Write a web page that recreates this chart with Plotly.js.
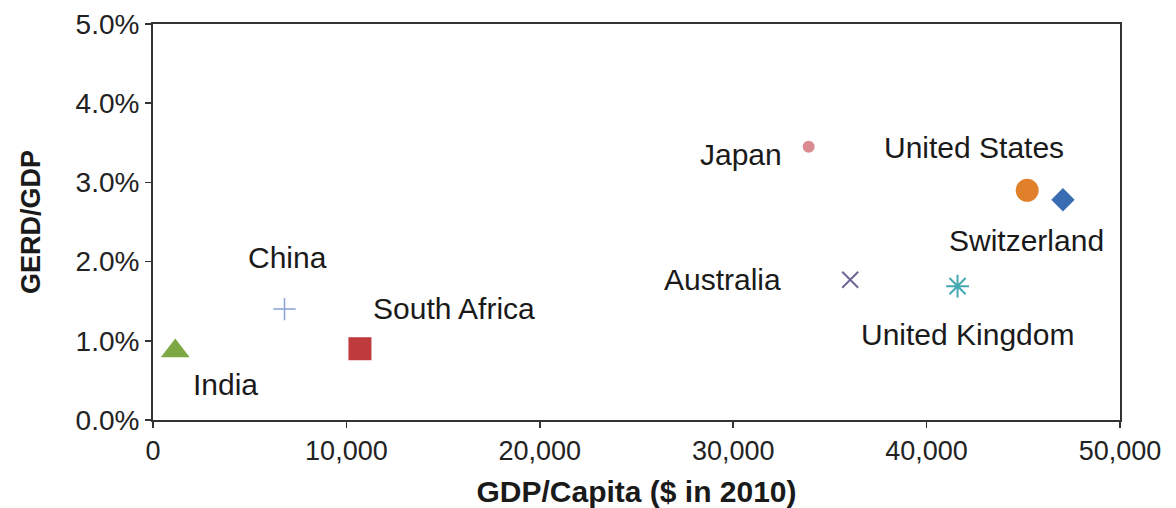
<!DOCTYPE html>
<html>
<head>
<meta charset="utf-8">
<script src="https://cdn.plot.ly/plotly-3.0.1.min.js"></script>
<style>
  html, body { margin: 0; padding: 0; background: #ffffff; }
  #chart { width: 1176px; height: 508px; }
</style>
</head>
<body>
<div id="chart"></div>
<script>
// ---- Data ----
const countries = ["India", "China", "South Africa", "Japan", "United States", "Switzerland", "Australia", "United Kingdom"];
const gdpPerCapita = [1150, 6800, 10700, 33900, 45200, 47050, 36050, 41600];
const gerdPercent = [0.87, 1.40, 0.90, 3.45, 2.90, 2.78, 1.77, 1.69];
const yTickValues = [0, 1, 2, 3, 4, 5];
const yTickLabels = ["0.0%", "1.0%", "2.0%", "3.0%", "4.0%", "5.0%"];
const xTickValues = [0, 10000, 20000, 30000, 40000, 50000];
const xTickLabels = ["0", "10,000", "20,000", "30,000", "40,000", "50,000"];

// ---- Styles (kept apart from data) ----
const markerSymbols = ["triangle-up", "cross-thin-open", "square", "circle", "circle", "diamond", "x-thin-open", "asterisk-open"];
const markerColors = ["#7ea843", "#8aa3d6", "#bf3a3c", "#d98b91", "#e0802b", "#3a6cb3", "#6b6896", "#45a9b3"];
const markerSizes = [25, 16, 23, 12, 23, 18, 16, 19];
const markerLineWidths = [0, 1.5, 0, 0, 0, 0, 2, 2];
// label offsets in pixels from each point (x right, y up)
const labelDx = [50, 3, 94, -68, -53, -36, -128, 10];
const labelDy = [-33, 52, 40, -8, 43, -41, 0, -48];

const FONT = "Liberation Sans, Arial, Helvetica, sans-serif";

const traces = countries.map((name, i) => ({
  type: "scatter",
  mode: "markers",
  name: name,
  x: [gdpPerCapita[i]],
  y: [gerdPercent[i]],
  marker: {
    symbol: markerSymbols[i],
    color: markerColors[i],
    size: markerSizes[i],
    line: { width: markerLineWidths[i], color: markerColors[i] }
  },
  hoverinfo: "x+y+name",
  cliponaxis: false
}));

const annotations = countries.map((name, i) => ({
  x: gdpPerCapita[i],
  y: gerdPercent[i],
  xref: "x",
  yref: "y",
  text: name,
  showarrow: false,
  xanchor: "center",
  yanchor: "middle",
  xshift: labelDx[i],
  yshift: labelDy[i],
  font: { family: FONT, size: 30, color: "#1a1a1a" }
}));

const layout = {
  width: 1176,
  height: 508,
  margin: { l: 153, r: 56, t: 24, b: 88, pad: 0 },
  paper_bgcolor: "#ffffff",
  plot_bgcolor: "#ffffff",
  showlegend: false,
  font: { family: FONT, color: "#222222" },
  xaxis: {
    range: [0, 50000],
    tickmode: "array",
    tickvals: xTickValues,
    ticktext: xTickLabels,
    ticks: "outside",
    ticklen: 6,
    tickwidth: 1.5,
    tickcolor: "#333333",
    showline: true,
    linecolor: "#333333",
    linewidth: 2,
    mirror: true,
    showgrid: false,
    zeroline: false,
    tickfont: { family: FONT, size: 27, color: "#222222" },
    title: { text: "<b>GDP/Capita ($ in 2010)</b>", font: { family: FONT, size: 30, color: "#1a1a1a" }, standoff: 18 }
  },
  yaxis: {
    range: [0, 5],
    tickmode: "array",
    tickvals: yTickValues,
    ticktext: yTickLabels,
    ticks: "outside",
    ticklen: 6,
    tickwidth: 1.5,
    tickcolor: "#333333",
    showline: true,
    linecolor: "#333333",
    linewidth: 2,
    mirror: true,
    showgrid: false,
    zeroline: false,
    tickfont: { family: FONT, size: 28, color: "#222222" },
    title: { text: "<b>GERD/GDP</b>", font: { family: FONT, size: 27, color: "#1a1a1a" }, standoff: 27 }
  },
  annotations: annotations
};

Plotly.newPlot("chart", traces, layout, { displayModeBar: false, staticPlot: true });
</script>
</body>
</html>
